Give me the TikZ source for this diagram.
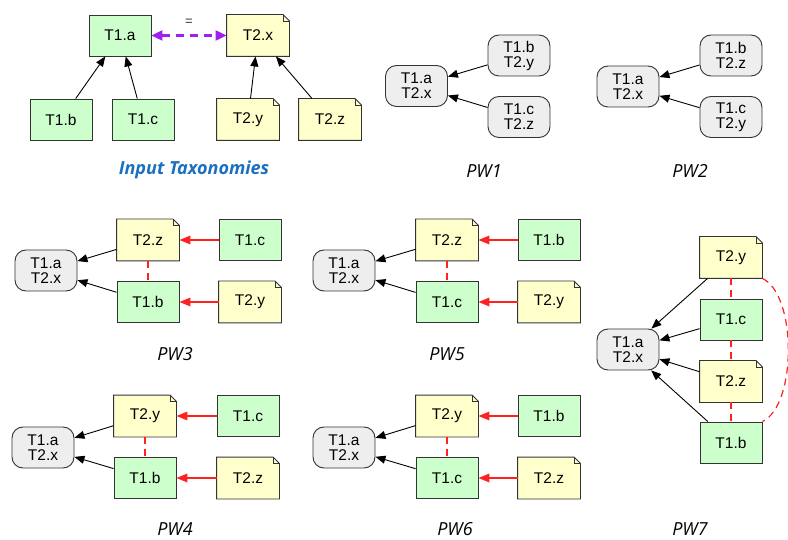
\documentclass[tikz,border=0pt]{standalone}
\usepackage{fontspec}
\setmainfont{Liberation Sans}
\newfontfamily\labfont{Open Sans}
\usetikzlibrary{arrows.meta}
\definecolor{greenfill}{HTML}{CCFFCC}
\definecolor{yellowfill}{HTML}{FFFFCC}
\definecolor{grayfill}{HTML}{EEEEEE}
\definecolor{boxline}{HTML}{333333}
\definecolor{eqpurple}{HTML}{A020F0}
\definecolor{titleblue}{HTML}{1A70C0}
\definecolor{redline}{HTML}{FF2020}
\newcommand\notenode[3]{%
  \node[notefill] (#1) at (#2) {#3};
  \fill[white] ([xshift=-6.5pt]#1.north east) -- (#1.north east) -- ([yshift=-6.5pt]#1.north east) -- cycle;
  \draw[noteline] (#1.north west) -- ([xshift=-6.5pt]#1.north east) -- ([yshift=-6.5pt]#1.north east) -- (#1.south east) -- (#1.south west) -- cycle;
  \draw[noteline] ([xshift=-6.5pt]#1.north east) -- ([xshift=-6.5pt,yshift=-6.5pt]#1.north east) -- ([yshift=-6.5pt]#1.north east);
}
\tikzset{
  every node/.style={font=\fontsize{15.5}{15}\selectfont},
  base/.style={minimum width=62pt, minimum height=41pt, inner sep=0pt, line width=0.9pt},
  gbox/.style={base, draw=boxline, fill=greenfill},
  merged/.style={base, draw=boxline, fill=grayfill, rounded corners=11pt, align=center},
  notefill/.style={base, fill=yellowfill},
  noteline/.style={draw=boxline, line width=0.9pt, line join=miter},
  edgearrow/.style={-{Triangle[length=10pt,width=8pt]}, line width=0.9pt, black},
  redarrow/.style={-{Triangle[length=11pt,width=8.5pt]}, draw=redline, fill=redline, line width=1.8pt},
  reddash/.style={draw=redline, dash pattern=on 7pt off 5pt, line width=1.2pt},
  eqarrow/.style={{Triangle[length=11pt,width=10pt]}-{Triangle[length=11pt,width=10pt]}, eqpurple, line width=2.2pt, dash pattern=on 8pt off 6pt},
  lab/.style={inner sep=0pt, font=\fontsize{18}{18}\selectfont\labfont\itshape},
  title/.style={inner sep=0pt, font=\fontsize{18}{18}\selectfont\labfont\bfseries\itshape, text=titleblue}
}
\begin{document}
\begin{tikzpicture}[x=1pt,y=-1pt]
\useasboundingbox (0,0) rectangle (788,540);
% ---------- Input taxonomies ----------
\node[gbox] (T1a) at (120,35.5) {T1.a};
\notenode{T2x}{258,35.5}{T2.x}
\node[gbox] (T1b) at (61,119.5) {T1.b};
\node[gbox] (T1c) at (143,119.5) {T1.c};
\notenode{T2y}{248,119.5}{T2.y}
\notenode{T2z}{330,119.5}{T2.z}
\draw[edgearrow] (T1b) -- (T1a);
\draw[edgearrow] (T1c) -- (T1a);
\draw[edgearrow] (T2y) -- (T2x);
\draw[edgearrow] (T2z) -- (T2x);
\draw[eqarrow] (T1a.east) -- (T2x.west);
\node[font=\fontsize{13}{13}\selectfont, text=boxline] (eq) at (189,22) {=};
\node[title] (inputlab) at (194,170) {Input Taxonomies};
% ---------- PW1 ----------
\node[merged] (P1a) at (416.5,86) {T1.a\\T2.x};
\node[merged] (P1b) at (519,55.5) {T1.b\\T2.y};
\node[merged] (P1c) at (519,117) {T1.c\\T2.z};
\draw[edgearrow] (P1b) -- (P1a);
\draw[edgearrow] (P1c) -- (P1a);
\node[lab] (pw1) at (484,171) {PW1};
% ---------- PW2 ----------
\node[merged] (P2a) at (628,86.5) {T1.a\\T2.x};
\node[merged] (P2b) at (731,55.5) {T1.b\\T2.z};
\node[merged] (P2c) at (731,117) {T1.c\\T2.y};
\draw[edgearrow] (P2b) -- (P2a);
\draw[edgearrow] (P2c) -- (P2a);
\node[lab] (pw2) at (690,171) {PW2};
% ---------- PW3 ----------
\node[merged] (P3a) at (46,270.5) {T1.a\\T2.x};
\notenode{P3z}{148,240}{T2.z}
\node[gbox] (P3b) at (148,302) {T1.b};
\node[gbox] (P3c) at (250,240) {T1.c};
\notenode{P3y}{250,302}{T2.y}
\draw[edgearrow] (P3z) -- (P3a);
\draw[edgearrow] (P3b) -- (P3a);
\draw[redarrow] (P3c) -- (P3z);
\draw[redarrow] (P3y) -- (P3b);
\draw[reddash] (P3z) -- (P3b);
\node[lab] (pw3) at (175,354) {PW3};
% ---------- PW5 ----------
\node[merged] (P5a) at (344,270.5) {T1.a\\T2.x};
\notenode{P5z}{447,240}{T2.z}
\node[gbox] (P5c) at (447,302) {T1.c};
\node[gbox] (P5b) at (549,240) {T1.b};
\notenode{P5y}{549,302}{T2.y}
\draw[edgearrow] (P5z) -- (P5a);
\draw[edgearrow] (P5c) -- (P5a);
\draw[redarrow] (P5b) -- (P5z);
\draw[redarrow] (P5y) -- (P5c);
\draw[reddash] (P5z) -- (P5c);
\node[lab] (pw5) at (447,354) {PW5};
% ---------- PW4 ----------
\node[merged] (P4a) at (43,447.5) {T1.a\\T2.x};
\notenode{P4y}{145,416}{T2.y}
\node[gbox] (P4b) at (145,478) {T1.b};
\node[gbox] (P4c) at (248,416) {T1.c};
\notenode{P4z}{248,478}{T2.z}
\draw[edgearrow] (P4y) -- (P4a);
\draw[edgearrow] (P4b) -- (P4a);
\draw[redarrow] (P4c) -- (P4y);
\draw[redarrow] (P4z) -- (P4b);
\draw[reddash] (P4y) -- (P4b);
\node[lab] (pw4) at (175,529) {PW4};
% ---------- PW6 ----------
\node[merged] (P6a) at (344,447.5) {T1.a\\T2.x};
\notenode{P6y}{447,416}{T2.y}
\node[gbox] (P6c) at (447,478) {T1.c};
\node[gbox] (P6b) at (549,416) {T1.b};
\notenode{P6z}{549,478}{T2.z}
\draw[edgearrow] (P6y) -- (P6a);
\draw[edgearrow] (P6c) -- (P6a);
\draw[redarrow] (P6b) -- (P6y);
\draw[redarrow] (P6z) -- (P6c);
\draw[reddash] (P6y) -- (P6c);
\node[lab] (pw6) at (455,529) {PW6};
% ---------- PW7 ----------
\node[merged] (P7a) at (628,349.5) {T1.a\\T2.x};
\notenode{P7y}{731,257.5}{T2.y}
\node[gbox] (P7c) at (731,319.5) {T1.c};
\notenode{P7z}{731,381.5}{T2.z}
\node[gbox] (P7b) at (731,442.5) {T1.b};
\draw[edgearrow] (P7y) -- (P7a);
\draw[edgearrow] (P7c) -- (P7a);
\draw[edgearrow] (P7z) -- (P7a);
\draw[edgearrow] (P7b) -- (P7a);
\draw[reddash] (P7y) -- (P7c);
\draw[reddash] (P7c) -- (P7z);
\draw[reddash] (P7z) -- (P7b);
\draw[reddash] (P7y.south east) .. controls (797,295) and (797,405) .. (P7b.north east);
\node[lab] (pw7) at (690,529) {PW7};
\end{tikzpicture}
\end{document}
